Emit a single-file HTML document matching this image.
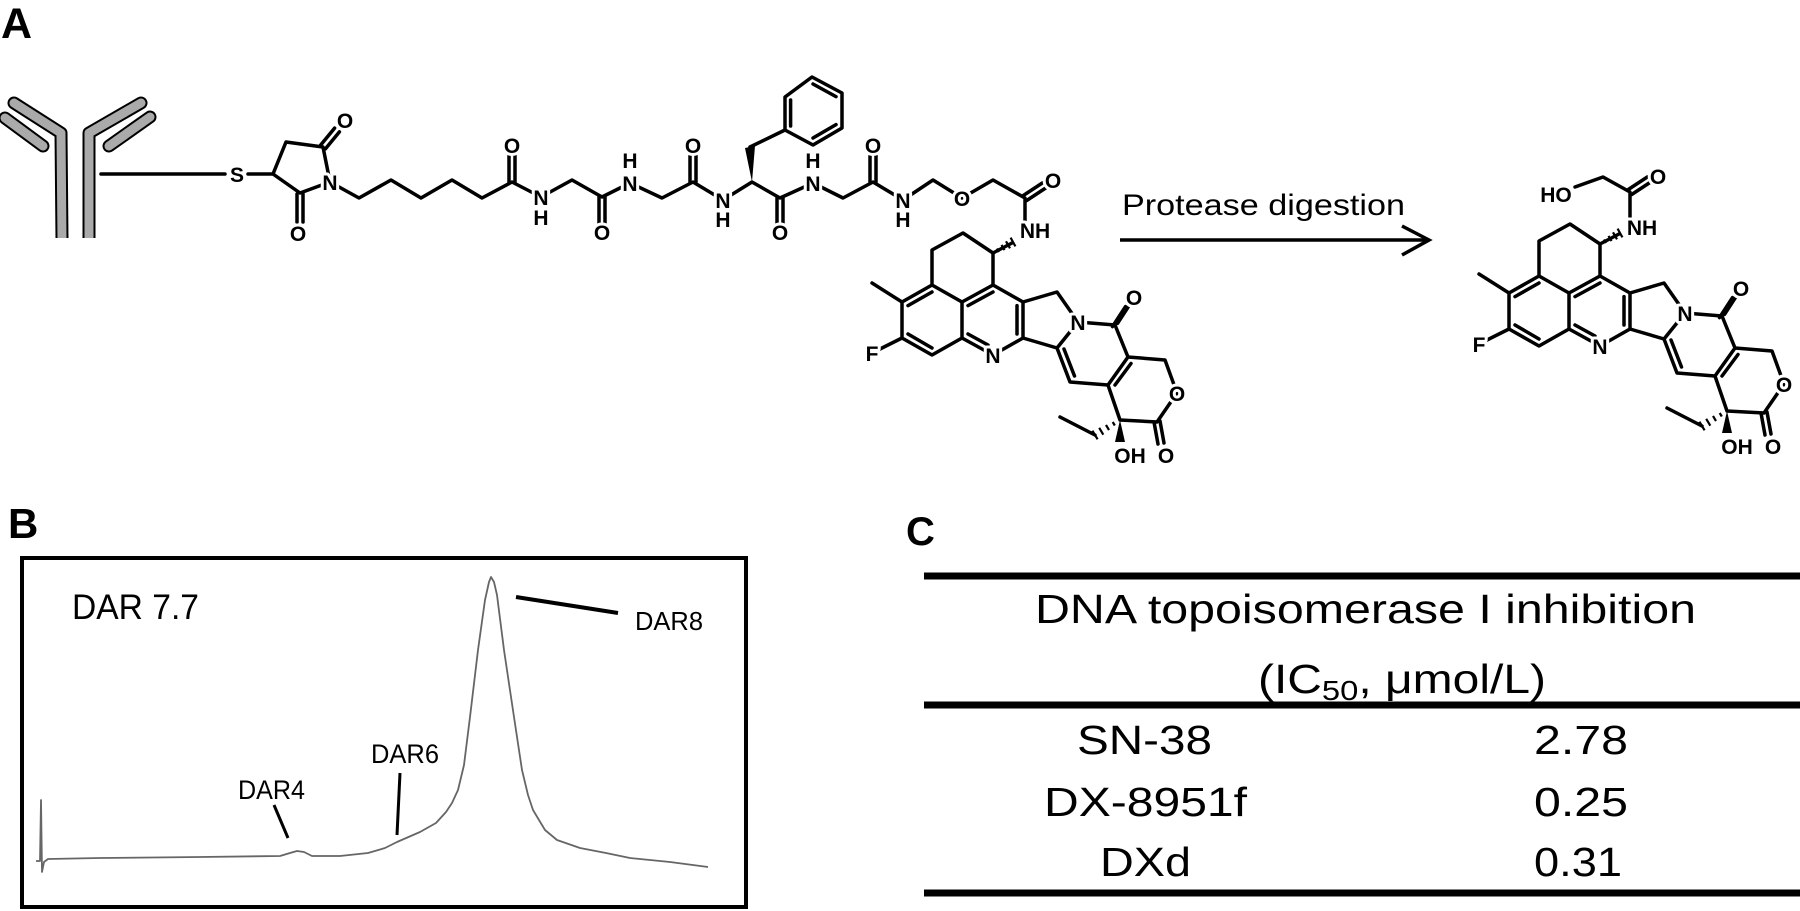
<!DOCTYPE html>
<html><head><meta charset="utf-8"><style>
html,body{margin:0;padding:0;background:#fff;}
svg{display:block;}
.b{stroke:#000;stroke-width:3.5;fill:none;stroke-linecap:round;stroke-linejoin:round}
.h{stroke:#000;stroke-width:2.2;fill:none}
.a{font-family:"Liberation Sans",Arial,sans-serif;font-weight:bold;font-size:21px;text-anchor:middle;fill:#000;stroke:#fff;stroke-width:6;paint-order:stroke;stroke-linejoin:round}
.n{font-family:"Liberation Sans Narrow","Liberation Sans",sans-serif;fill:#000}
.p{font-family:"Liberation Sans",Arial,sans-serif;font-weight:bold;fill:#000}
</style></head><body>
<svg width="1800" height="911" viewBox="0 0 1800 911" xmlns="http://www.w3.org/2000/svg">
<rect width="1800" height="911" fill="#fff"/>
<defs>
<g id="core">
 <polyline class="b" points="1012,243 993,253 963,233 932,250 932,285 902,302 902,338 932,355 962,338 962,302 932,285"/>
 <line class="b" x1="993" y1="253" x2="993" y2="285"/>
 <polyline class="b" points="962,302 993,285 1023,302 1023,338 993,355 962,338"/>
 <line class="b" x1="902" y1="302" x2="872" y2="283"/>
 <line class="b" x1="902" y1="338" x2="880" y2="349"/>
 <line class="b" x1="932" y1="292" x2="908" y2="305.6"/>
 <line class="b" x1="908" y1="334" x2="932" y2="348"/>
 <line class="b" x1="968" y1="305.6" x2="993" y2="292"/>
 <line class="b" x1="1017" y1="305.6" x2="1017" y2="334"/>
 <line class="b" x1="968" y1="334" x2="988" y2="345"/>
 <polyline class="b" points="1023,302 1057,292 1078,322 1057,348 1023,338"/>
 <polyline class="b" points="1078,322 1115,325 1128,357 1108,385 1070,382 1057,348"/>
 <line class="b" x1="1074.5" y1="376" x2="1064" y2="349"/>
 <polyline class="b" points="1128,357 1165,360 1177,393 1157,422 1120,420 1108,385"/>
 <line class="b" x1="1115" y1="385" x2="1131" y2="363.5"/>
 <line class="b" x1="1112.5" y1="326.6" x2="1125.5" y2="306.6"/>
 <line class="b" x1="1117.5" y1="323.4" x2="1130.5" y2="303.4"/>
 <line class="b" x1="1154" y1="422" x2="1158" y2="444"/>
 <line class="b" x1="1160" y1="421" x2="1164" y2="443"/>
 <line class="b" x1="1095" y1="435" x2="1060" y2="417"/>
 <g class="h">
  <line x1="997" y1="248.5" x2="999" y2="252"/>
  <line x1="1001.5" y1="244.9" x2="1004.5" y2="250.1"/>
  <line x1="1006" y1="241.3" x2="1010" y2="248.3"/>
  <line x1="1010.6" y1="237.6" x2="1015.4" y2="246.4"/>
  <line x1="1112.7" y1="422" x2="1114.8" y2="425.5"/>
  <line x1="1106" y1="424.9" x2="1109" y2="430.1"/>
  <line x1="1099.2" y1="427.8" x2="1103.3" y2="434.7"/>
  <line x1="1092.4" y1="430.7" x2="1097.6" y2="439.3"/>
 </g>
 <polygon points="1120,420 1115,442 1125,442" fill="#000"/>
</g>
</defs>

<text class="p" x="1" y="38" font-size="43">A</text>
<text class="p" x="8" y="538" font-size="42">B</text>
<text class="p" x="906" y="545" font-size="40">C</text>

<g stroke-linecap="round" stroke-linejoin="round" fill="none">
 <g stroke="#000" stroke-width="13">
  <polyline points="14,103 61,133 62,240"/>
  <polyline points="141,103 89,133 89,240"/>
  <line x1="5" y1="118" x2="43" y2="146"/>
  <line x1="109" y1="146" x2="150" y2="117"/>
 </g>
 <g stroke="#aaa" stroke-width="9">
  <polyline points="14,103 61,133 62,240"/>
  <polyline points="141,103 89,133 89,240"/>
  <line x1="5" y1="118" x2="43" y2="146"/>
  <line x1="109" y1="146" x2="150" y2="117"/>
 </g>
</g>
<rect x="50" y="238" width="50" height="10" fill="#fff"/>
<line class="b" x1="101" y1="174" x2="225" y2="174"/>

<line class="b" x1="248" y1="174" x2="273" y2="174"/>
<polyline class="b" points="273,174 286,142 323,147 330,182 300,193 273,174"/>
<line class="b" x1="320.6" y1="145.1" x2="334.6" y2="128.1"/>
<line class="b" x1="325.4" y1="148.9" x2="339.4" y2="131.9"/>
<line class="b" x1="297" y1="194" x2="297" y2="222"/>
<line class="b" x1="303" y1="194" x2="303" y2="222"/>
<polyline class="b" points="330,182 359,198 391,180 421,198 452,180 482,198 512,182 541,197 572,180 602,197 630,183 662,198 693,182 723,200 752,182 780,198 813,183 843,198 873,182 903,200 933,180 962,198 993,180 1025,198 1025,222"/>
<line class="b" x1="509" y1="182" x2="509" y2="154"/>
<line class="b" x1="515" y1="182" x2="515" y2="154"/>
<line class="b" x1="599" y1="197" x2="599" y2="224"/>
<line class="b" x1="605" y1="197" x2="605" y2="224"/>
<line class="b" x1="690" y1="182" x2="690" y2="154"/>
<line class="b" x1="696" y1="182" x2="696" y2="154"/>
<line class="b" x1="777" y1="198" x2="777" y2="224"/>
<line class="b" x1="783" y1="198" x2="783" y2="224"/>
<line class="b" x1="870" y1="182" x2="870" y2="154"/>
<line class="b" x1="876" y1="182" x2="876" y2="154"/>
<line class="b" x1="1023.3" y1="195.5" x2="1042.3" y2="183"/>
<line class="b" x1="1026.7" y1="200.5" x2="1045.7" y2="188"/>
<polygon points="752,182 745,148 755,146" fill="#000"/>
<line class="b" x1="750" y1="147" x2="785" y2="130"/>
<polygon class="b" points="785,130 785,97 812,77 842,93 842,128 813,145"/>
<line class="b" x1="790.6" y1="126" x2="790.6" y2="100"/>
<line class="b" x1="813" y1="84" x2="836" y2="96.6"/>
<line class="b" x1="836" y1="124.6" x2="813" y2="138"/>

<use href="#core"/>
<use href="#core" transform="translate(607,-9)"/>
<polyline class="b" points="1575,187 1603,177 1630,192 1630,218"/>
<line class="b" x1="1628.3" y1="189.5" x2="1647.3" y2="177"/>
<line class="b" x1="1631.7" y1="194.5" x2="1650.7" y2="182"/>

<g class="a">
 <text x="237" y="182">S</text>
 <text x="345" y="128">O</text>
 <text x="330" y="190">N</text>
 <text x="298" y="241">O</text>
 <text x="512" y="153">O</text>
 <text x="541" y="205">N</text><text x="541" y="225">H</text>
 <text x="602" y="240">O</text>
 <text x="630" y="191">N</text><text x="630" y="168">H</text>
 <text x="693" y="153">O</text>
 <text x="723" y="208">N</text><text x="723" y="227">H</text>
 <text x="780" y="240">O</text>
 <text x="813" y="191">N</text><text x="813" y="168">H</text>
 <text x="873" y="153">O</text>
 <text x="903" y="208">N</text><text x="903" y="227">H</text>
 <text x="962" y="206">O</text>
 <text x="1053" y="188">O</text>
 <text x="1035" y="238">NH</text>
 <text x="872" y="361">F</text>
 <text x="993" y="363">N</text>
 <text x="1078" y="330">N</text>
 <text x="1134" y="305">O</text>
 <text x="1177" y="401">O</text>
 <text x="1130" y="463">OH</text>
 <text x="1166" y="463">O</text>
 <text x="1556" y="202">HO</text>
 <text x="1658" y="184">O</text>
 <text x="1642" y="235">NH</text>
 <text x="1479" y="352">F</text>
 <text x="1600" y="354">N</text>
 <text x="1685" y="321">N</text>
 <text x="1741" y="296">O</text>
 <text x="1784" y="392">O</text>
 <text x="1737" y="454">OH</text>
 <text x="1773" y="454">O</text>
</g>

<text x="1122" y="215" font-family="Liberation Sans,Arial,sans-serif" font-size="30" textLength="283" lengthAdjust="spacingAndGlyphs">Protease digestion</text>
<line x1="1120" y1="240" x2="1428" y2="240" stroke="#000" stroke-width="3.5"/>
<polyline points="1402,226 1429,240 1402,255" fill="none" stroke="#000" stroke-width="3.5" stroke-linejoin="miter"/>

<rect x="22" y="558" width="724" height="349" fill="none" stroke="#000" stroke-width="4"/>
<text class="n" x="72" y="619" font-size="35" textLength="127" lengthAdjust="spacingAndGlyphs">DAR 7.7</text>
<text class="n" x="635" y="630" font-size="26" textLength="68" lengthAdjust="spacingAndGlyphs">DAR8</text>
<text class="n" x="371" y="763" font-size="27" textLength="68" lengthAdjust="spacingAndGlyphs">DAR6</text>
<text class="n" x="238" y="799" font-size="27" textLength="67" lengthAdjust="spacingAndGlyphs">DAR4</text>
<line x1="516" y1="597" x2="618" y2="613" stroke="#000" stroke-width="4"/>
<line x1="400" y1="773" x2="397" y2="835" stroke="#000" stroke-width="3"/>
<line x1="274" y1="805" x2="288" y2="838" stroke="#000" stroke-width="3"/>
<polyline fill="none" stroke="#666" stroke-width="1.8" stroke-linejoin="round" points="36,861 40,861 41,800 42,872 44,862 48,859 100,858 200,857 280,856 290,853 297,851 304,852 312,856 340,856 368,853 385,848 397,842 420,832 436,823 446,812 452,803 458,790 464,765 470,717 478,650 485,600 489,582 491,577 494,582 497,595 504,650 514,717 522,770 528,795 533,810 545,830 557,840 580,848 606,853 630,858 670,862 708,867"/>

<line x1="924" y1="576" x2="1800" y2="576" stroke="#000" stroke-width="7"/>
<line x1="924" y1="705" x2="1800" y2="705" stroke="#000" stroke-width="7"/>
<line x1="924" y1="893" x2="1800" y2="893" stroke="#000" stroke-width="7"/>
<g class="n" font-size="41">
 <text x="1035" y="623" textLength="661" lengthAdjust="spacingAndGlyphs">DNA topoisomerase I inhibition</text>
 <text x="1258" y="693" textLength="288" lengthAdjust="spacingAndGlyphs">(IC<tspan font-size="28" dy="7">50</tspan><tspan dy="-7">, μmol/L)</tspan></text>
 <text x="1077" y="754" textLength="135" lengthAdjust="spacingAndGlyphs">SN-38</text>
 <text x="1534" y="754" textLength="94" lengthAdjust="spacingAndGlyphs">2.78</text>
 <text x="1044" y="816" textLength="203" lengthAdjust="spacingAndGlyphs">DX-8951f</text>
 <text x="1534" y="816" textLength="94" lengthAdjust="spacingAndGlyphs">0.25</text>
 <text x="1100" y="876" textLength="91" lengthAdjust="spacingAndGlyphs">DXd</text>
 <text x="1534" y="876" textLength="88" lengthAdjust="spacingAndGlyphs">0.31</text>
</g>
</svg>
</body></html>
